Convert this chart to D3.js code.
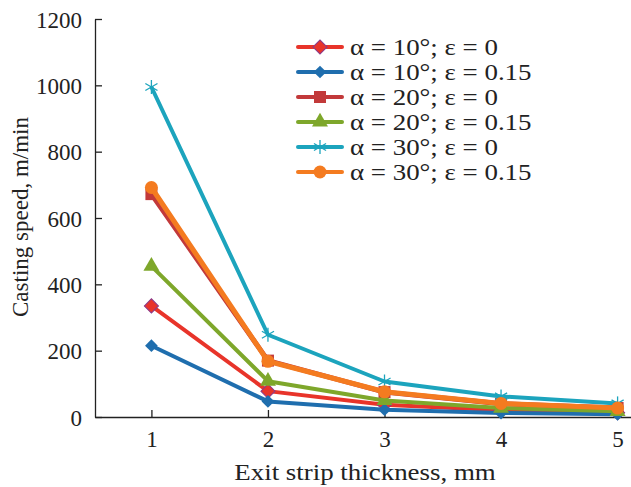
<!DOCTYPE html>
<html>
<head>
<meta charset="utf-8">
<script src="https://cdn.jsdelivr.net/npm/d3@7"></script>
<style>
  body { margin: 0; background: #fff; }
  text { font-family: "Liberation Serif", "Times New Roman", serif; fill: #222; }
</style>
</head>
<body>
<div id="chart"></div>
<script>
"use strict"
// Data
var thickness = [1, 2, 3, 4, 5];
var seriesNames = ["α = 10°; ε = 0", "α = 10°; ε = 0.15", "α = 20°; ε = 0", "α = 20°; ε = 0.15", "α = 30°; ε = 0", "α = 30°; ε = 0.15"];
var a10e0 = [335, 78, 37, 20, 13];
var a10e15 = [215, 47, 22, 12, 8];
var a20e0 = [672, 170, 75, 40, 27];
var a20e15 = [455, 108, 50, 27, 17];
var a30e0 = [995, 248, 107, 62, 41];
var a30e15 = [692, 168, 76, 41, 27];
var yTicks = [0, 200, 400, 600, 800, 1000, 1200];

var values = [a10e0, a10e15, a20e0, a20e15, a30e0, a30e15];
var colors = ["#e8342a", "#1f6eae", "#c2393a", "#7ea72b", "#1ca4bd", "#f47b20"];
var symbols = ["diamond", "diamondSmall", "square", "triangle", "star", "circle"];

var width = 631, height = 487;
var margin = {top: 19, right: 0, bottom: 70, left: 95};
var drawWidth = width - margin.left - margin.right;
var drawHeight = height - margin.top - margin.bottom;
var stretch = 1.17; // reference text looks a bit wide

var svg = d3.select("#chart").append("svg")
    .attr("width", width)
    .attr("height", height);

var g = svg.append("g")
    .attr("transform", "translate(" + margin.left + "," + margin.top + ")");

var xScale = d3.scaleLinear().domain([0.516, 5.115]).range([0, drawWidth]);
var yScale = d3.scaleLinear().domain([0, 1200]).range([drawHeight, 0]);

// Axes, ticks pointing inside
var xAxis = d3.axisBottom(xScale).tickValues(thickness).tickFormat(d3.format("d"))
    .tickSizeInner(-7).tickSizeOuter(0).tickPadding(14);
var yAxis = d3.axisLeft(yScale).tickValues(yTicks).tickFormat(d3.format("d"))
    .tickSizeInner(-7).tickSizeOuter(0).tickPadding(13);

var gx = g.append("g")
    .attr("transform", "translate(0," + drawHeight + ")")
    .call(xAxis);
var gy = g.append("g").call(yAxis);

[gx, gy].forEach(function(ax) {
    ax.select(".domain").attr("stroke", "#222").attr("stroke-width", 1.3);
    ax.selectAll(".tick line").attr("stroke", "#222").attr("stroke-width", 1.3);
    ax.selectAll(".tick text")
        .style("font-family", "'Liberation Serif', serif")
        .style("font-size", "23px")
        .attr("fill", "#222");
});
gx.selectAll(".tick text").attr("dy", "0.71em");
gy.selectAll(".tick text").attr("dy", "0.36em");

// Axis titles
svg.append("text")
    .attr("transform", "translate(365,480) scale(" + stretch + ",1)")
    .attr("text-anchor", "middle")
    .style("font-size", "23px")
    .text("Exit strip thickness, mm");

svg.append("text")
    .attr("transform", "translate(28,217) rotate(-90)")
    .attr("text-anchor", "middle")
    .style("font-size", "23px")
    .text("Casting speed, m/min");

// Marker drawing
function drawMarker(sel, type, color) {
    if (type === "diamond") {
        sel.append("rect").attr("x", -5).attr("y", -5).attr("width", 10).attr("height", 10)
            .attr("transform", "rotate(45)")
            .attr("fill", color).attr("stroke", "#8a3a8a").attr("stroke-width", 1);
    } else if (type === "diamondSmall") {
        sel.append("rect").attr("x", -4.5).attr("y", -4.5).attr("width", 9).attr("height", 9)
            .attr("transform", "rotate(45)")
            .attr("fill", color);
    } else if (type === "square") {
        sel.append("rect").attr("x", -6).attr("y", -6).attr("width", 12).attr("height", 12)
            .attr("fill", color);
    } else if (type === "triangle") {
        sel.append("path").attr("d", d3.symbol(d3.symbolTriangle, 110)())
            .attr("fill", color);
    } else if (type === "star") {
        var r = 7;
        [30, 150].forEach(function(a) {
            var rad = a * Math.PI / 180;
            sel.append("line")
                .attr("x1", -r * Math.cos(rad)).attr("y1", -r * Math.sin(rad))
                .attr("x2", r * Math.cos(rad)).attr("y2", r * Math.sin(rad))
                .attr("stroke", color).attr("stroke-width", 1.3);
        });
        sel.append("line").attr("x1", 0).attr("y1", -r).attr("x2", 0).attr("y2", r)
            .attr("stroke", color).attr("stroke-width", 1.3);
    } else if (type === "circle") {
        sel.append("circle").attr("r", 6.5).attr("fill", color);
    }
}

var line = d3.line()
    .x(function(d, i) { return xScale(thickness[i]); })
    .y(function(d) { return yScale(d); });

values.forEach(function(vals, s) {
    var sg = g.append("g");
    sg.append("path")
        .datum(vals)
        .attr("d", line)
        .attr("fill", "none")
        .attr("stroke", colors[s])
        .attr("stroke-width", s === 2 || s === 5 ? 5 : 4)
        .attr("stroke-linejoin", "round");
    sg.selectAll(".pt")
        .data(vals)
        .enter()
        .append("g")
        .attr("transform", function(d, i) { return "translate(" + xScale(thickness[i]) + "," + yScale(d) + ")"; })
        .each(function() { drawMarker(d3.select(this), symbols[s], colors[s]); });
});

// Legend
var legend = svg.append("g").attr("transform", "translate(298,47)");
seriesNames.forEach(function(name, s) {
    var row = legend.append("g").attr("transform", "translate(0," + (s * 25) + ")");
    row.append("line")
        .attr("x1", 0).attr("x2", 44).attr("y1", 0).attr("y2", 0)
        .attr("stroke", colors[s]).attr("stroke-width", 4).attr("stroke-linecap", "round");
    var m = row.append("g").attr("transform", "translate(22,0)");
    drawMarker(m, symbols[s], colors[s]);
    row.append("text")
        .attr("transform", "translate(52,0) scale(" + stretch + ",1)")
        .attr("dy", "0.35em")
        .style("font-size", "23px")
        .text(name);
});
</script>
</body>
</html>
